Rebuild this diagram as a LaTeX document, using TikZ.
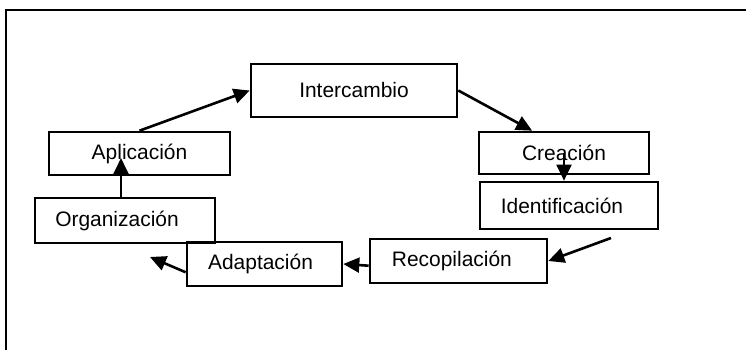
\documentclass[tikz,border=0pt]{standalone}
\usepackage{fontspec}
\setmainfont{Liberation Sans}
\usetikzlibrary{arrows.meta}
\begin{document}
\begin{tikzpicture}[x=0.025cm, y=-0.025cm, every node/.style={font=\fontsize{14.9}{18}\selectfont}]
	\tikzstyle{paso}=[rectangle,draw,line width=0.065cm,inner sep=0pt]
	\tikzstyle{flecha}=[line width=0.065cm,-{Triangle[length=0.4cm,width=0.37cm]}]
	\useasboundingbox (0,0) rectangle (746,350);
	\draw[line width=0.07cm] (6,350) -- (6,10) -- (746,10);
	\node[paso,minimum width=5.15cm,minimum height=1.325cm](inter)at(354,90.5){Intercambio};
	\node[paso,minimum width=4.525cm,minimum height=1.075cm](aplic)at(139.5,153.5){Aplicación};
	\node[paso,minimum width=4.5cm,minimum height=1.125cm](organ)at(125,220.5){Organización\hspace*{0.4cm}};
	\node[paso,minimum width=3.875cm,minimum height=1.1cm](adapt)at(264.5,264){Adaptación\hspace*{0.2cm}};
	\node[paso,minimum width=4.425cm,minimum height=1.1cm](recop)at(458.5,261){Recopilación\hspace*{0.33cm}};
	\node[paso,minimum width=4.25cm,minimum height=1.05cm](crea)at(564,153){Creación};
	\node[paso,minimum width=4.45cm,minimum height=1.175cm](ident)at(569,205.5){Identificación\hspace*{0.35cm}};
	\coordinate(desde)at(611,238);
	\coordinate(hacia)at(150,257);
	\coordinate(punta)at(121,158);
	\draw[flecha] (aplic.north) -- (inter.west);
	\draw[flecha] (inter.east) -- (crea.145);
	\draw[flecha] (crea.center) -- (crea.center |- ident.north);
	\draw[flecha] (desde) -- (recop.east);
	\draw[flecha] (recop.183) -- (adapt.east);
	\draw[flecha] (adapt.186) -- (hacia);
	\draw[flecha] (punta |- organ.north) -- (punta);
\end{tikzpicture}
\end{document}
